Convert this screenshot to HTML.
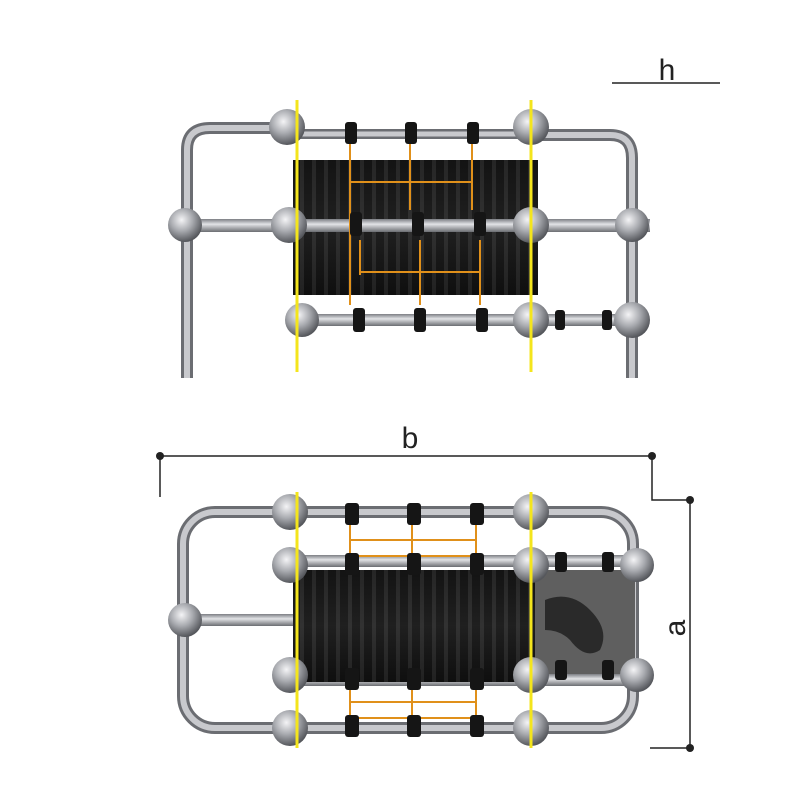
<!DOCTYPE html>
<html><head><style>html,body{margin:0;padding:0;background:#fff}svg{display:block}</style></head>
<body>
<svg width="800" height="800" viewBox="0 0 800 800" xmlns="http://www.w3.org/2000/svg">
<defs>
<radialGradient id="ball" cx="40%" cy="35%" r="65%">
<stop offset="0" stop-color="#f4f4f6"/><stop offset="0.5" stop-color="#a9abb0"/><stop offset="1" stop-color="#55575c"/></radialGradient>
<linearGradient id="pipeH" x1="0" y1="0" x2="0" y2="1">
<stop offset="0" stop-color="#7c7e84"/><stop offset="0.4" stop-color="#e2e3e6"/><stop offset="1" stop-color="#6b6d72"/></linearGradient>
<linearGradient id="drum" x1="0" y1="0" x2="0" y2="1">
<stop offset="0" stop-color="#111"/><stop offset="0.5" stop-color="#2a2a2a"/><stop offset="1" stop-color="#080808"/></linearGradient>
<pattern id="rib" width="12" height="10" patternUnits="userSpaceOnUse">
<rect width="12" height="10" fill="#151515"/><rect x="0" width="4" height="10" fill="#3a3a3a"/></pattern>
</defs>
<g font-family="Liberation Sans, sans-serif" fill="#222">
<line x1="612" y1="83" x2="720" y2="83" stroke="#222" stroke-width="1.5"/>
<text x="667" y="80" font-size="30" text-anchor="middle">h</text>
<line x1="160" y1="456" x2="652" y2="456" stroke="#222" stroke-width="1.5"/>
<line x1="160" y1="456" x2="160" y2="497" stroke="#222" stroke-width="1.5"/>
<polyline points="652,456 652,500 690,500" fill="none" stroke="#222" stroke-width="1.5"/>
<circle cx="160" cy="456" r="4"/><circle cx="652" cy="456" r="4"/>
<text x="410" y="448" font-size="30" text-anchor="middle">b</text>
<line x1="690" y1="500" x2="690" y2="748" stroke="#222" stroke-width="1.5"/>
<line x1="650" y1="748" x2="690" y2="748" stroke="#222" stroke-width="1.5"/>
<circle cx="690" cy="500" r="4"/><circle cx="690" cy="748" r="4"/>
<text x="0" y="0" font-size="30" text-anchor="middle" transform="translate(685,628) rotate(-90)">a</text>
</g>

<g fill="none" stroke-linecap="butt">
<path d="M187,378 V150 Q187,128 210,128 H300" stroke="#6b6d72" stroke-width="12"/>
<path d="M187,378 V150 Q187,128 210,128 H300" stroke="#c8c9cd" stroke-width="6"/>
<path d="M530,135 H610 Q632,135 632,158 V378" stroke="#6b6d72" stroke-width="12"/>
<path d="M530,135 H610 Q632,135 632,158 V378" stroke="#c8c9cd" stroke-width="6"/>
<line x1="300" y1="134" x2="530" y2="134" stroke="#6b6d72" stroke-width="10"/>
<line x1="300" y1="134" x2="530" y2="134" stroke="#c8c9cd" stroke-width="5"/>
</g>
<rect x="293" y="160" width="245" height="135" fill="url(#rib)"/>
<rect x="293" y="160" width="245" height="135" fill="url(#drum)" opacity="0.5"/>
<rect x="170" y="219" width="480" height="13" fill="url(#pipeH)"/>
<rect x="300" y="314" width="335" height="12" fill="url(#pipeH)"/>
<g stroke="#e0901a" stroke-width="2" fill="none">
<line x1="350" y1="140" x2="350" y2="305"/><line x1="410" y1="140" x2="410" y2="210"/><line x1="472" y1="140" x2="472" y2="210"/>
<line x1="350" y1="182" x2="472" y2="182"/><line x1="360" y1="272" x2="480" y2="272"/>
<line x1="360" y1="240" x2="360" y2="275"/><line x1="420" y1="240" x2="420" y2="305"/><line x1="480" y1="240" x2="480" y2="305"/>
</g>
<g fill="#151515">
<rect x="345" y="122" width="12" height="22" rx="3"/><rect x="405" y="122" width="12" height="22" rx="3"/><rect x="467" y="122" width="12" height="22" rx="3"/>
<rect x="350" y="212" width="12" height="24" rx="3"/><rect x="412" y="212" width="12" height="24" rx="3"/><rect x="474" y="212" width="12" height="24" rx="3"/>
<rect x="353" y="308" width="12" height="24" rx="3"/><rect x="414" y="308" width="12" height="24" rx="3"/><rect x="476" y="308" width="12" height="24" rx="3"/>
<rect x="555" y="310" width="10" height="20" rx="3"/><rect x="602" y="310" width="10" height="20" rx="3"/>
</g>
<g fill="url(#ball)">
<circle cx="287" cy="127" r="18"/><circle cx="531" cy="127" r="18"/>
<circle cx="185" cy="225" r="17"/><circle cx="289" cy="225" r="18"/><circle cx="531" cy="225" r="18"/><circle cx="632" cy="225" r="17"/>
<circle cx="302" cy="320" r="17"/><circle cx="531" cy="320" r="18"/><circle cx="632" cy="320" r="18"/>
</g>
<line x1="297" y1="100" x2="297" y2="372" stroke="#f4e51c" stroke-width="3"/>
<line x1="531" y1="100" x2="531" y2="372" stroke="#f4e51c" stroke-width="3"/>

<rect x="183" y="512" width="450" height="216" rx="32" fill="none" stroke="#6b6d72" stroke-width="12"/>
<rect x="183" y="512" width="450" height="216" rx="32" fill="none" stroke="#c8c9cd" stroke-width="6"/>
<rect x="535" y="570" width="100" height="115" fill="#5f5f5f"/>
<path d="M545,600 Q570,590 590,610 Q610,630 600,650 Q585,660 570,640 Q560,630 545,630" fill="#2a2a2a"/>
<rect x="290" y="555" width="350" height="12" fill="url(#pipeH)"/>
<rect x="290" y="674" width="350" height="12" fill="url(#pipeH)"/>
<rect x="183" y="614" width="117" height="12" fill="url(#pipeH)"/>
<rect x="293" y="570" width="242" height="112" fill="url(#rib)"/>
<rect x="293" y="570" width="242" height="112" fill="url(#drum)" opacity="0.5"/>
<g stroke="#e0901a" stroke-width="2" fill="none">
<line x1="350" y1="505" x2="350" y2="565"/><line x1="412" y1="505" x2="412" y2="565"/><line x1="476" y1="505" x2="476" y2="565"/>
<line x1="350" y1="540" x2="476" y2="540"/><line x1="350" y1="556" x2="476" y2="556"/>
<line x1="350" y1="685" x2="350" y2="735"/><line x1="412" y1="685" x2="412" y2="735"/><line x1="476" y1="685" x2="476" y2="735"/>
<line x1="350" y1="702" x2="476" y2="702"/><line x1="350" y1="718" x2="476" y2="718"/>
</g>
<g fill="#151515">
<rect x="345" y="503" width="14" height="22" rx="3"/><rect x="407" y="503" width="14" height="22" rx="3"/><rect x="470" y="503" width="14" height="22" rx="3"/>
<rect x="345" y="553" width="14" height="22" rx="3"/><rect x="407" y="553" width="14" height="22" rx="3"/><rect x="470" y="553" width="14" height="22" rx="3"/>
<rect x="345" y="668" width="14" height="22" rx="3"/><rect x="407" y="668" width="14" height="22" rx="3"/><rect x="470" y="668" width="14" height="22" rx="3"/>
<rect x="345" y="715" width="14" height="22" rx="3"/><rect x="407" y="715" width="14" height="22" rx="3"/><rect x="470" y="715" width="14" height="22" rx="3"/>
<rect x="555" y="552" width="12" height="20" rx="3"/><rect x="602" y="552" width="12" height="20" rx="3"/>
<rect x="555" y="660" width="12" height="20" rx="3"/><rect x="602" y="660" width="12" height="20" rx="3"/>
</g>
<g fill="url(#ball)">
<circle cx="290" cy="512" r="18"/><circle cx="531" cy="512" r="18"/>
<circle cx="290" cy="565" r="18"/><circle cx="531" cy="565" r="18"/><circle cx="637" cy="565" r="17"/>
<circle cx="185" cy="620" r="17"/>
<circle cx="290" cy="675" r="18"/><circle cx="531" cy="675" r="18"/><circle cx="637" cy="675" r="17"/>
<circle cx="290" cy="728" r="18"/><circle cx="531" cy="728" r="18"/>
</g>
<line x1="297" y1="492" x2="297" y2="748" stroke="#f4e51c" stroke-width="3"/>
<line x1="531" y1="492" x2="531" y2="748" stroke="#f4e51c" stroke-width="3"/>
</svg>
</body></html>
